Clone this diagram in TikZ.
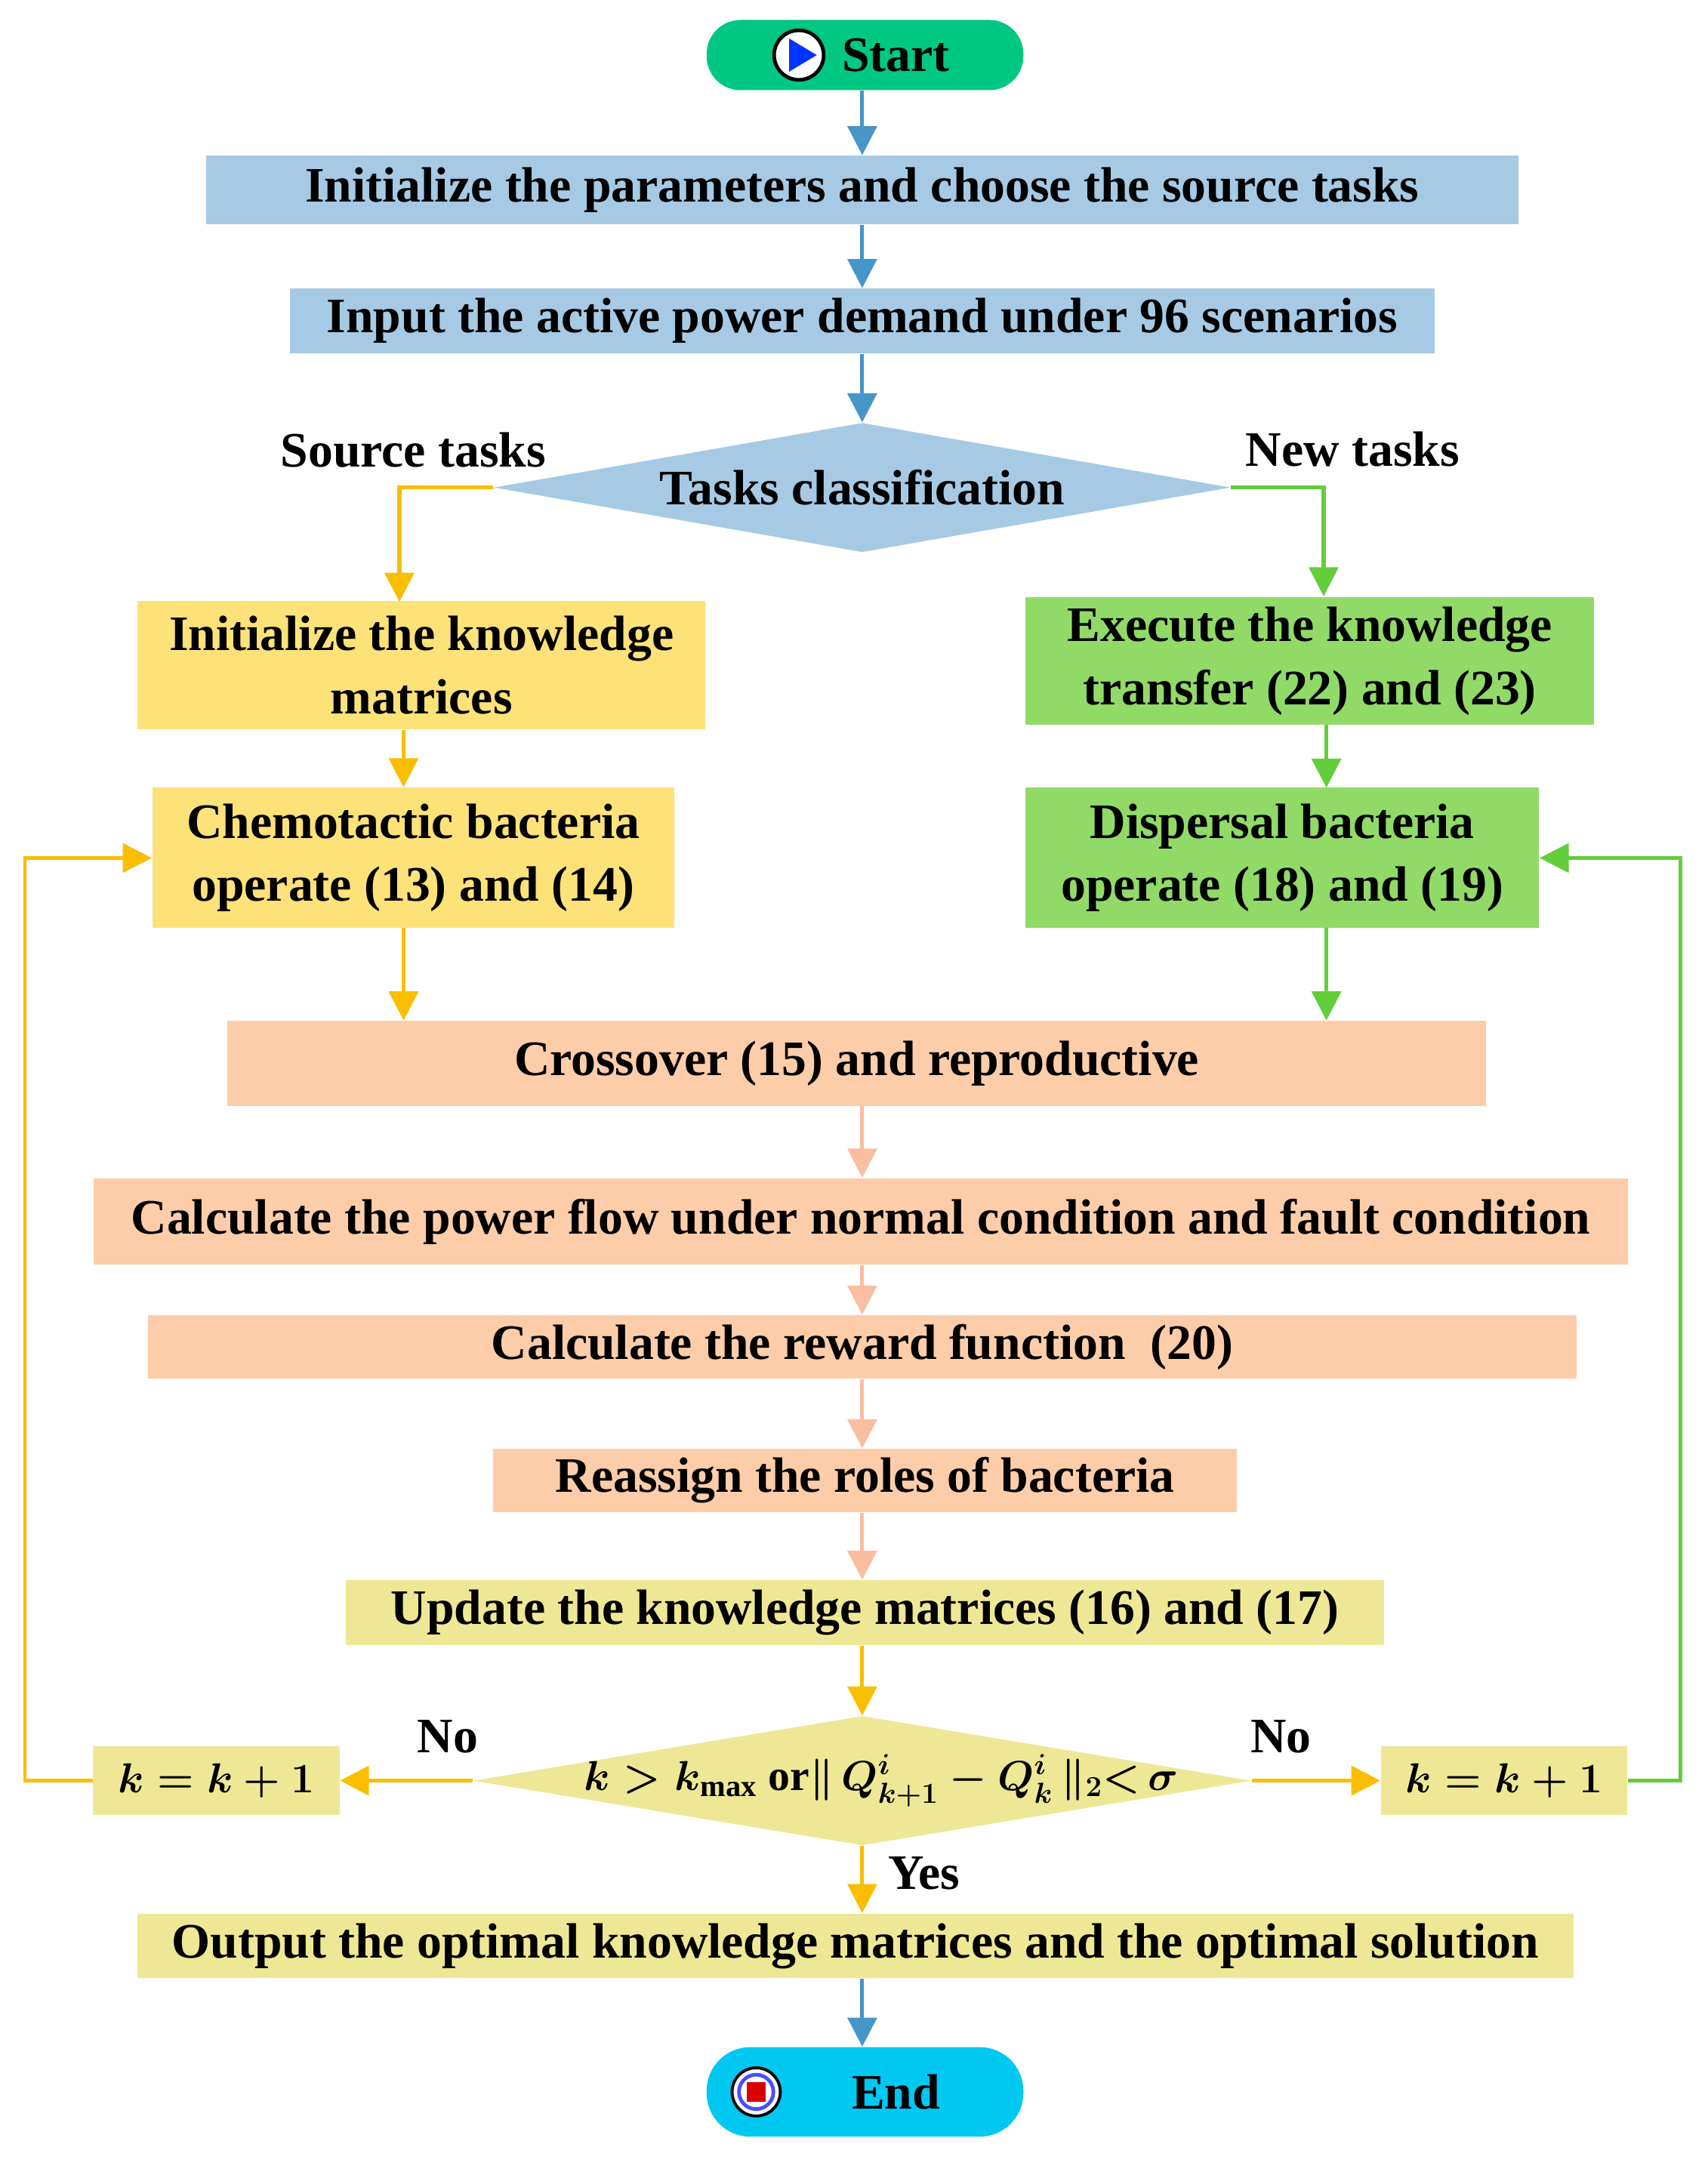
\documentclass[tikz,border=0pt]{standalone}
\usepackage{amsmath}
\usepackage{fontspec}
\setmainfont{Liberation Serif}
\usetikzlibrary{shapes.geometric,arrows.meta}
\definecolor{cblue}{RGB}{166,202,228}
\definecolor{ablue}{RGB}{70,150,200}
\definecolor{cyel}{RGB}{253,226,122}
\definecolor{ayel}{RGB}{250,190,0}
\definecolor{cgrn}{RGB}{146,218,104}
\definecolor{agrn}{RGB}{100,205,60}
\definecolor{cpch}{RGB}{253,205,170}
\definecolor{apch}{RGB}{250,190,160}
\definecolor{ckha}{RGB}{238,232,150}
\definecolor{cstart}{RGB}{0,200,130}
\definecolor{cend}{RGB}{0,200,240}
\begin{document}
\begin{tikzpicture}[x=0.02cm,y=-0.02cm,
  every node/.style={font=\fontsize{20.5}{24}\selectfont\bfseries, inner sep=0pt, align=center},
  box/.style={rectangle, draw=none},
  arr/.style={line width=1.6pt, -{Triangle[length=12pt,width=12pt]}},
  lbl/.style={font=\fontsize{20.5}{24}\selectfont\bfseries},
  kk/.style={box, fill=ckha, minimum width=3.58cm, minimum height=1.0cm, font=\fontsize{17}{20}\selectfont\bfseries}]
\useasboundingbox (0,0) rectangle (1240,1575);
\fill[white] (0,0) rectangle (1240,1575);
\node[box, fill=cstart, rounded corners=14pt, minimum width=4.6cm, minimum height=1.02cm] (start) at (628,40) {\hspace*{0.9cm}Start};
\node[box, fill=cblue, minimum width=19.06cm, minimum height=1.0cm] (init) at (626,138) {Initialize the parameters and choose the source tasks};
\node[box, fill=cblue, minimum width=16.62cm, minimum height=0.94cm] (input) at (626,233) {Input the active power demand under 96 scenarios};
\node[diamond, aspect=5.7, fill=cblue, minimum width=10.7cm, minimum height=1.88cm] (cls) at (626,354) {Tasks classification};
\node[box, fill=cyel, minimum width=8.24cm, minimum height=1.86cm] (ik) at (306,483) {Initialize the knowledge\\[2pt] matrices};
\node[box, fill=cgrn, minimum width=8.26cm, minimum height=1.86cm] (ex) at (951,480) {Execute the knowledge\\[2pt] transfer (22) and (23)};
\node[box, fill=cyel, minimum width=7.58cm, minimum height=2.04cm] (ch) at (300,623) {Chemotactic bacteria\\[2pt] operate (13) and (14)};
\node[box, fill=cgrn, minimum width=7.46cm, minimum height=2.04cm] (dp) at (931,623) {Dispersal bacteria\\[2pt] operate (18) and (19)};
\node[box, fill=cpch, minimum width=18.28cm, minimum height=1.24cm] (cr) at (622,772) {Crossover (15) and reproductive};
\node[box, fill=cpch, minimum width=22.28cm, minimum height=1.26cm] (pf) at (625,887) {Calculate the power flow under normal condition and fault condition};
\node[box, fill=cpch, minimum width=20.74cm, minimum height=0.92cm] (rw) at (626,978) {Calculate the reward function\ \ (20)};
\node[box, fill=cpch, minimum width=10.8cm, minimum height=0.92cm] (ra) at (628,1075) {Reassign the roles of bacteria};
\node[box, fill=ckha, minimum width=15.08cm, minimum height=0.94cm] (up) at (628,1171) {Update the knowledge matrices (16) and (17)};
\node[diamond, aspect=6, fill=ckha, minimum width=11.3cm, minimum height=1.88cm] (dec) at (626,1293) {};
\node[font=\fontsize{18}{22}\selectfont\bfseries] (dectext) at (640,1293) {$\boldsymbol{k>k}_{\mathbf{max}}$ or$\boldsymbol{\|\, Q^{i}_{k+1}-Q^{i}_{k} \,\|_{2}{<}\,\sigma}$};
\node[kk] (kl) at (157,1293) {$\boldsymbol{k=k+1}$};
\node[kk] (kr) at (1092,1293) {$\boldsymbol{k=k+1}$};
\node[box, fill=ckha, minimum width=20.86cm, minimum height=0.94cm] (out) at (621,1413) {Output the optimal knowledge matrices and the optimal solution};
\node[box, fill=cend, rounded corners=18pt, minimum width=4.6cm, minimum height=1.3cm] (end) at (628,1519) {\hspace*{0.9cm}End};
% icons
\node[circle, draw=black, line width=1.5pt, fill=white, minimum size=0.72cm] (si) at (580,40) {};
\fill[blue!80!cyan] (573,28) -- (573,52) -- (593,40) -- cycle;
\node[circle, draw=black, line width=1.2pt, fill=white, minimum size=0.7cm] (ei) at (549,1519) {};
\node[circle, draw=blue!70, line width=1.5pt, fill=white, minimum size=0.5cm] (ei2) at (549,1519) {};
\fill[red!85!black] (542,1512) rectangle (556,1526);
% helper coordinates
\coordinate (s1) at (290,354); \coordinate (s2) at (290,437);
\coordinate (n1) at (961,354); \coordinate (n2) at (961,433);
\coordinate (g1) at (963,526); \coordinate (g2) at (963,572);
\coordinate (y1) at (293,674); \coordinate (y2) at (293,741);
\coordinate (g3) at (963,674); \coordinate (g4) at (963,741);
\coordinate (c) at (626,0);
% arrows
\draw[arr, ablue] (c |- start.south) -- (c |- init.north);
\draw[arr, ablue] (c |- init.south) -- (c |- input.north);
\draw[arr, ablue] (c |- input.south) -- (cls.north);
\draw[arr, ayel] (cls.west) -- (s1) -- (s2);
\draw[arr, agrn] (cls.east) -- (n1) -- (n2);
\draw[arr, ayel] (y1 |- ik.south) -- (y1 |- ch.north);
\draw[arr, agrn] (g1) -- (g2);
\draw[arr, ayel] (y1) -- (y2);
\draw[arr, agrn] (g3) -- (g4);
\draw[arr, apch] (c |- cr.south) -- (c |- pf.north);
\draw[arr, apch] (c |- pf.south) -- (c |- rw.north);
\draw[arr, apch] (c |- rw.south) -- (c |- ra.north);
\draw[arr, apch] (c |- ra.south) -- (c |- up.north);
\draw[arr, ayel] (c |- up.south) -- (dec.north);
\draw[arr, ayel] (dec) -- (kl);
\draw[arr, ayel] (dec) -- (kr);
\draw[arr, ayel] (dec.south) -- (c |- out.north);
\draw[arr, ablue] (c |- out.south) -- (c |- end.north);
\coordinate (l1) at (18,1293); \coordinate (l2) at (18,623);
\draw[arr, ayel, line width=1.4pt] (kl.west) -- (l1) -- (l2) -- (ch.west);
\coordinate (r1) at (1220,1293); \coordinate (r2) at (1220,623);
\draw[arr, agrn, line width=1.4pt] (kr.east) -- (r1) -- (r2) -- (dp.east);
% labels
\node[lbl] (ls) at (300,327) {Source tasks};
\node[lbl] (ln) at (982,326) {New tasks};
\node[lbl] (no1) at (325,1261) {No};
\node[lbl] (no2) at (930,1261) {No};
\node[lbl] (yes) at (671,1360) {Yes};
\end{tikzpicture}
\end{document}
